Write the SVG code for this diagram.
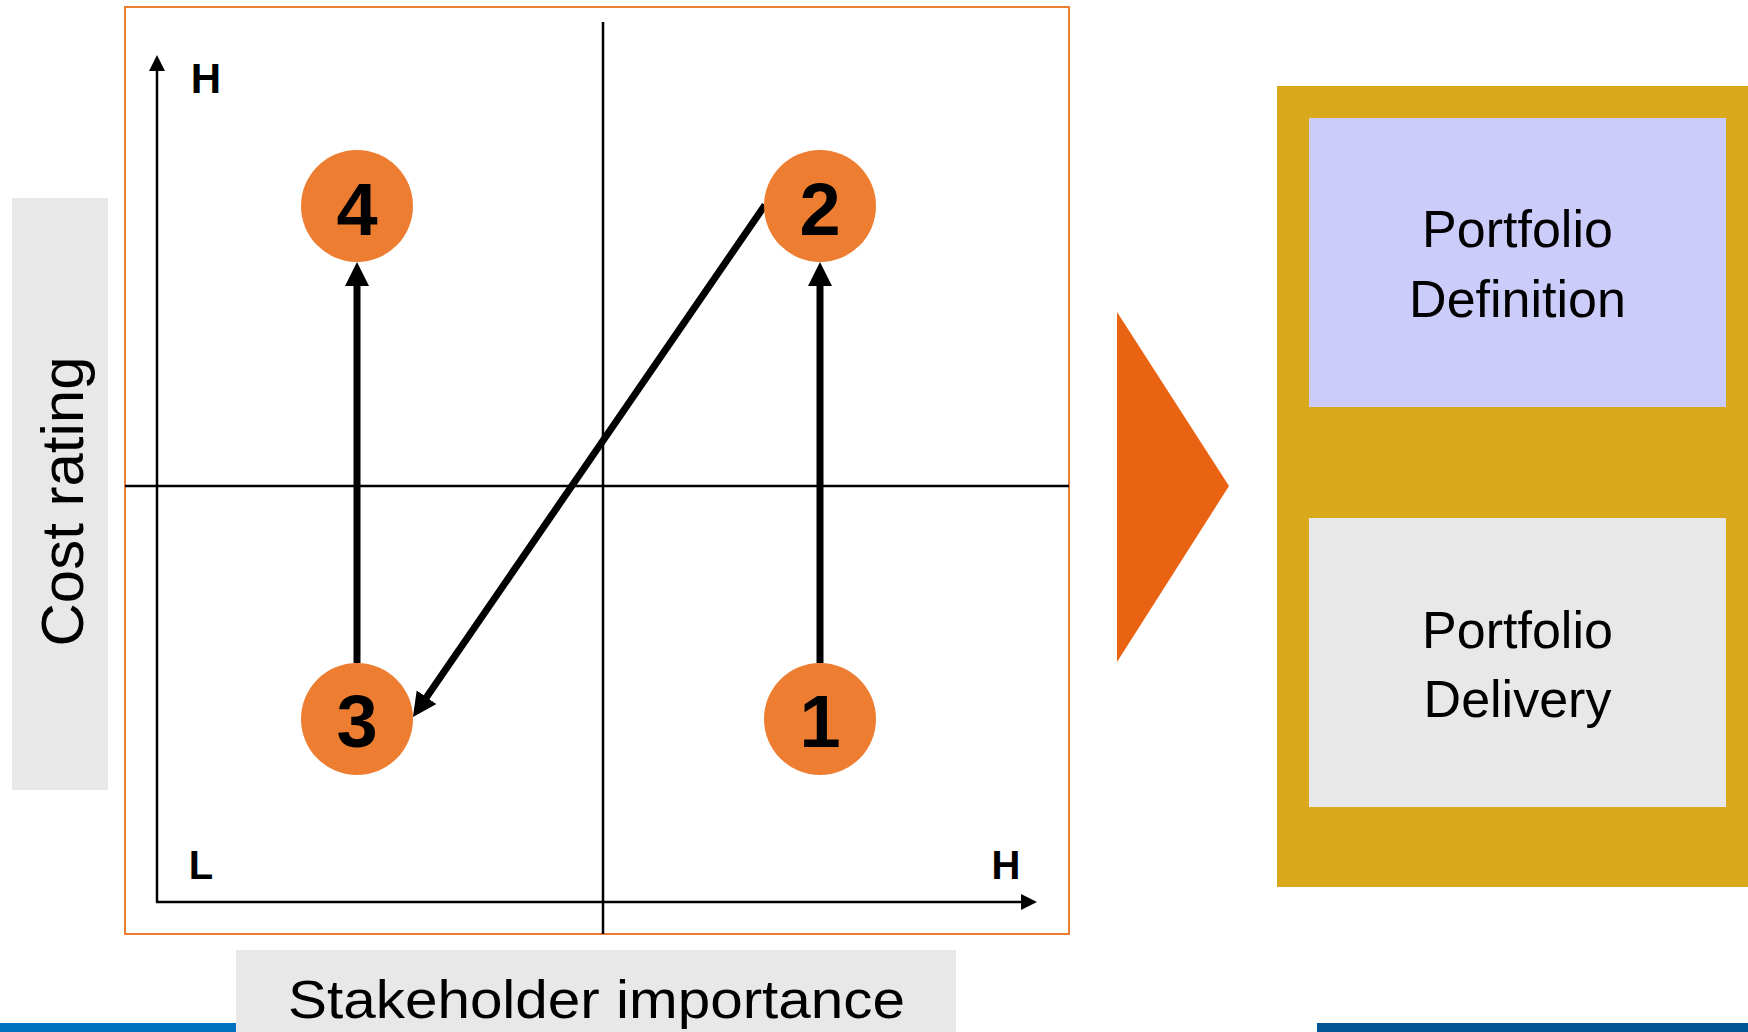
<svg xmlns="http://www.w3.org/2000/svg" width="1748" height="1032" viewBox="0 0 1748 1032">
<defs>
<style>
.lbl{font-family:"Liberation Sans",Arial,sans-serif;fill:#000}
.bold{font-weight:bold}
.num{font-family:"Liberation Sans",Arial,sans-serif;font-weight:bold;font-size:74px;text-anchor:middle;fill:#000}
.node{fill:#ed7d31}
.thin{stroke:#000;stroke-width:2.5;fill:none}
.thick{stroke:#000;stroke-width:7;fill:none}
.box{font-family:"Liberation Sans",Arial,sans-serif;font-size:52px;text-anchor:middle;fill:#000}
</style>
<marker id="big" viewBox="0 0 24 24" markerWidth="24" markerHeight="24" markerUnits="userSpaceOnUse" refX="4" refY="12" orient="auto">
<path d="M0,0 L24,12 L0,24 z" fill="#000"/>
</marker>
<marker id="small" viewBox="0 0 16 16" markerWidth="16" markerHeight="16" markerUnits="userSpaceOnUse" refX="2" refY="8" orient="auto">
<path d="M0,0 L16,8 L0,16 z" fill="#000"/>
</marker>
</defs>
<rect width="1748" height="1032" fill="#fff"/>

<g id="bottom-bars">
<rect x="0" y="1023" width="236" height="9" fill="#0070c0"/>
<rect x="1317" y="1023" width="431" height="9" fill="#005597"/>
</g>

<g id="y-label">
<rect x="12" y="198" width="96" height="592" fill="#e8e8e8"/>
<text class="lbl" font-size="60" text-anchor="middle" transform="translate(83,501.5) rotate(-90)">Cost rating</text>
</g>

<g id="x-label">
<rect x="236" y="950" width="720" height="82" fill="#e8e8e8"/>
<text class="lbl" font-size="53" x="596.5" y="1018" text-anchor="middle" textLength="617" lengthAdjust="spacingAndGlyphs">Stakeholder importance</text>
</g>

<g id="chart-frame">
<rect x="125" y="7" width="944" height="927" fill="none" stroke="#ed7d31" stroke-width="2"/>
<line class="thin" x1="603" y1="22" x2="603" y2="934"/>
<line class="thin" x1="125" y1="486" x2="1069" y2="486"/>
<text class="lbl bold" font-size="42" x="206" y="93" text-anchor="middle">H</text>
<text class="lbl bold" font-size="40" x="201" y="879" text-anchor="middle">L</text>
<text class="lbl bold" font-size="40" x="1006" y="879" text-anchor="middle">H</text>
</g>

<g id="connectors">
<line class="thin" x1="157" y1="902" x2="157" y2="69" marker-end="url(#small)"/>
<line class="thin" x1="156" y1="902" x2="1023" y2="902" marker-end="url(#small)"/>
<line class="thick" x1="820" y1="663" x2="820" y2="282" marker-end="url(#big)"/>
<line class="thick" x1="357" y1="663" x2="357" y2="282" marker-end="url(#big)"/>
<line class="thick" x1="765" y1="205" x2="424.3" y2="700.5" marker-end="url(#big)"/>
</g>

<g id="node-4">
<circle class="node" cx="357" cy="206" r="56"/>
<text class="num" x="357" y="235">4</text>
</g>
<g id="node-2">
<circle class="node" cx="820" cy="206" r="56"/>
<text class="num" x="820" y="235">2</text>
</g>
<g id="node-3">
<circle class="node" cx="357" cy="719" r="56"/>
<text class="num" x="357" y="747">3</text>
</g>
<g id="node-1">
<circle class="node" cx="820" cy="719" r="56"/>
<text class="num" x="820" y="747">1</text>
</g>

<g id="chevron">
<polygon points="1117,312 1229,486 1117,662" fill="#e96312"/>
</g>

<g id="portfolio">
<rect x="1277" y="86" width="471" height="801" fill="#d9a91b"/>
<g id="portfolio-definition">
<rect x="1309" y="118" width="417" height="289" fill="#ccccfa"/>
<text class="box" x="1517.5" y="247">Portfolio</text>
<text class="box" x="1517.5" y="317">Definition</text>
</g>
<g id="portfolio-delivery">
<rect x="1309" y="518" width="417" height="289" fill="#e8e8e8"/>
<text class="box" x="1517.5" y="648">Portfolio</text>
<text class="box" x="1517.5" y="717">Delivery</text>
</g>
</g>
</svg>
